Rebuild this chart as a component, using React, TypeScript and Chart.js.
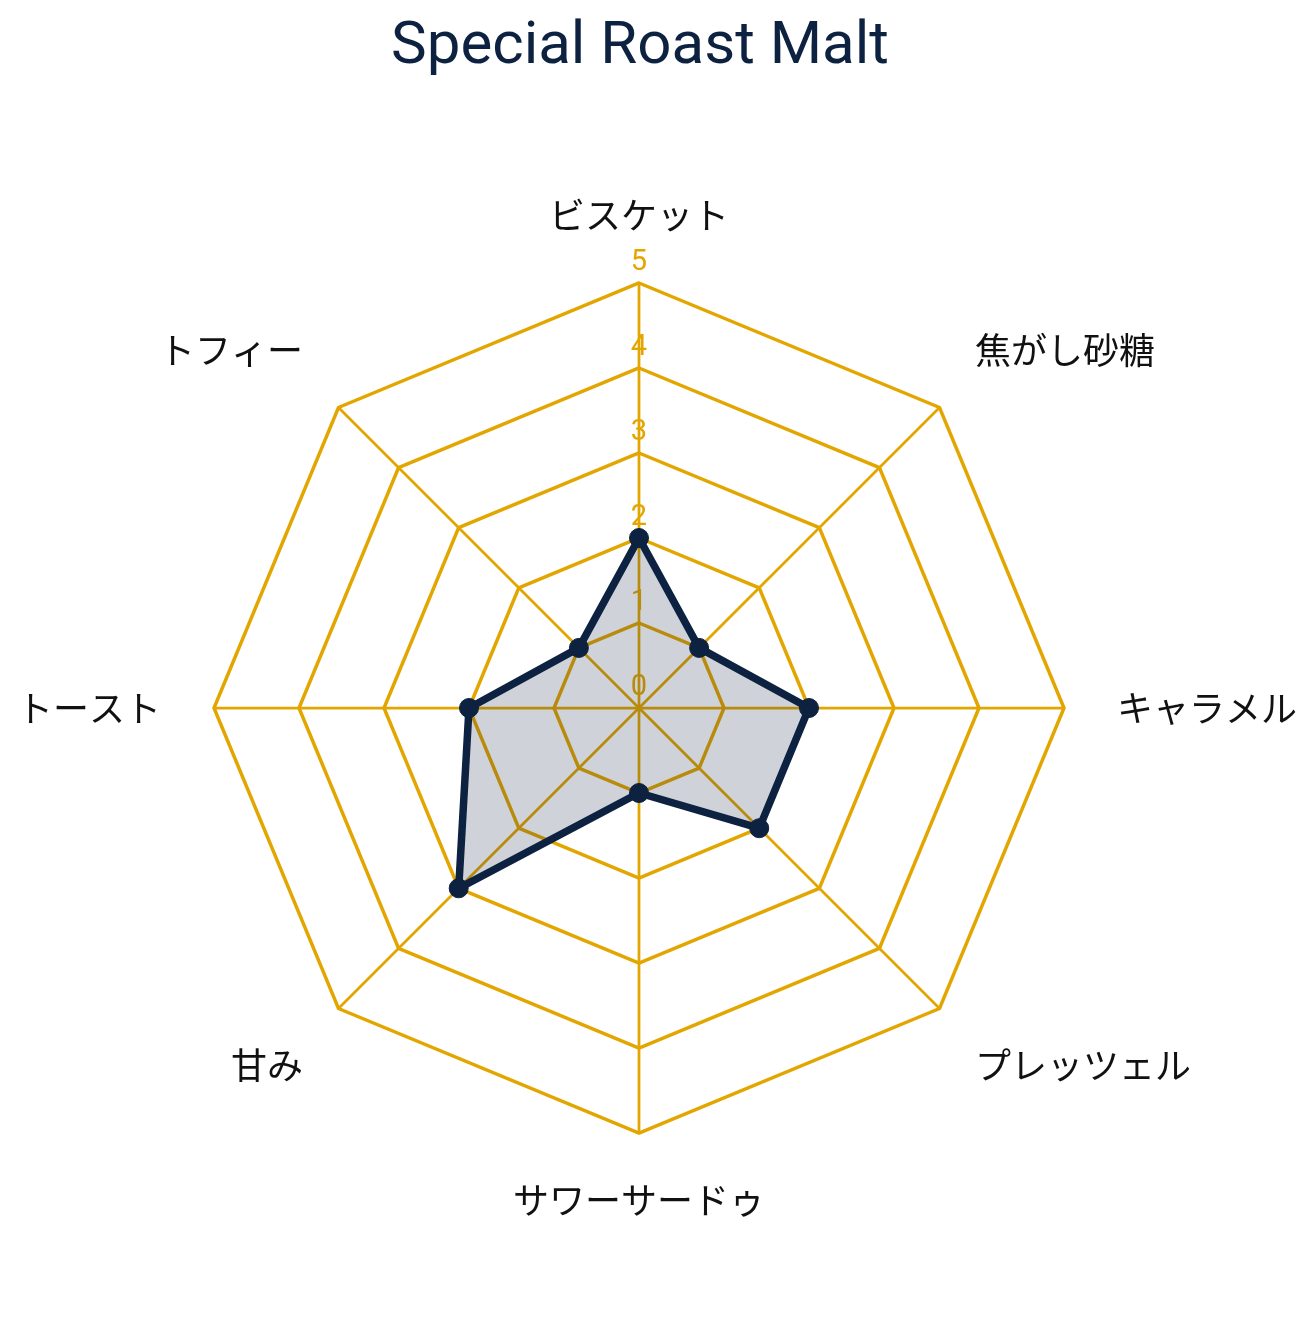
import React, { useEffect, useRef } from "react";
import { Chart, registerables } from "chart.js";

Chart.register(...registerables);

const categories = ["ビスケット", "焦がし砂糖", "キャラメル", "プレッツェル", "サワーサードゥ", "甘み", "トースト", "トフィー"];
const values = [2, 1, 2, 2, 1, 3, 2, 1];
const tickValues = [0, 1, 2, 3, 4, 5];
const titleText = "Special Roast Malt";

const GOLD = "#E3A600";
const NAVY = "#0D2240";

const tickLabelPlugin = {
  id: "tickLabelPlugin",
  beforeDatasetsDraw(chart: any) {
    const scale = chart.scales.r;
    const ctx = chart.ctx;
    ctx.save();
    ctx.fillStyle = GOLD;
    ctx.font = "29px Roboto";
    ctx.textAlign = "center";
    ctx.textBaseline = "alphabetic";
    for (const v of tickValues) {
      const d = scale.getDistanceFromCenterForValue(v);
      ctx.fillText(String(v), scale.xCenter, scale.yCenter - d - 13);
    }
    ctx.restore();
  },
};

const titlePlugin = {
  id: "titlePlugin",
  afterDraw(chart: any) {
    const scale = chart.scales.r;
    const ctx = chart.ctx;
    ctx.save();
    ctx.fillStyle = NAVY;
    ctx.font = "60px Roboto";
    ctx.textAlign = "center";
    ctx.textBaseline = "alphabetic";
    ctx.fillText(titleText, scale.xCenter + 1, 55);
    ctx.restore();
  },
};

export default function App() {
  const ref = useRef<HTMLCanvasElement | null>(null);
  useEffect(() => {
    if (!ref.current) return;
    const chart = new Chart(ref.current, {
      type: "radar",
      data: {
        labels: categories,
        datasets: [
          {
            data: values,
            borderColor: NAVY,
            backgroundColor: "rgba(13,34,64,0.2)",
            borderWidth: 7.5,
            pointRadius: 9.5,
            pointBackgroundColor: NAVY,
            pointBorderColor: NAVY,
            pointBorderWidth: 1,
          },
        ],
      },
      options: {
        animation: false,
        responsive: true,
        maintainAspectRatio: false,
        layout: { padding: { left: 0, right: 0, top: 151, bottom: 57 } },
        plugins: {
          legend: { display: false },
          tooltip: { enabled: false },
          title: { display: false },
        },
        scales: {
          r: {
            min: 0,
            max: 5,
            ticks: { display: false, stepSize: 1 },
            grid: { color: GOLD, lineWidth: 3.5 },
            angleLines: { color: GOLD, lineWidth: 2.75 },
            pointLabels: {
              color: "#111111",
              font: { family: "'Noto Sans CJK JP'", size: 36 },
              padding: (ctx: any) => {
                const i = ctx.index;
                if (i === 0 || i === 4) return 46;
                if (i === 2 || i === 6) return 53;
                return 50;
              },
            },
          },
        },
      },
      plugins: [tickLabelPlugin, titlePlugin],
    });
    return () => chart.destroy();
  }, []);
  return (
    <div style={{ width: 1316, height: 1308, marginLeft: -8, position: "relative" }}>
      <canvas ref={ref} />
    </div>
  );
}
